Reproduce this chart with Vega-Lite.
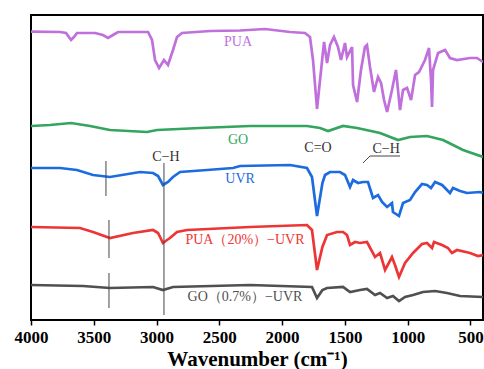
{
  "$schema": "https://vega.github.io/schema/vega-lite/v6.json",
  "width": 452,
  "height": 305,
  "autosize": {"type": "none"},
  "padding": {"left": 31, "top": 15, "right": 1, "bottom": 49},
  "background": "white",
  "config": {
    "view": {"stroke": "black", "strokeWidth": 2},
    "axis": {"grid": false}
  },
  "datasets": {
    "spectra": [
      {"series": "PUA", "wn": 4000, "v": 288.3}, {"series": "PUA", "wn": 3769, "v": 288}, {"series": "PUA", "wn": 3721, "v": 287}, {"series": "PUA", "wn": 3681, "v": 280}, {"series": "PUA", "wn": 3658, "v": 283}, {"series": "PUA", "wn": 3634, "v": 287}, {"series": "PUA", "wn": 3490, "v": 287}, {"series": "PUA", "wn": 3427, "v": 285}, {"series": "PUA", "wn": 3387, "v": 282}, {"series": "PUA", "wn": 3347, "v": 285}, {"series": "PUA", "wn": 3307, "v": 288}, {"series": "PUA", "wn": 3068, "v": 288}, {"series": "PUA", "wn": 3036, "v": 280}, {"series": "PUA", "wn": 3012, "v": 260}, {"series": "PUA", "wn": 2980, "v": 252}, {"series": "PUA", "wn": 2941, "v": 260}, {"series": "PUA", "wn": 2909, "v": 255}, {"series": "PUA", "wn": 2869, "v": 270}, {"series": "PUA", "wn": 2837, "v": 283}, {"series": "PUA", "wn": 2797, "v": 287}, {"series": "PUA", "wn": 2574, "v": 289}, {"series": "PUA", "wn": 2335, "v": 289.5}, {"series": "PUA", "wn": 2136, "v": 291}, {"series": "PUA", "wn": 1937, "v": 288}, {"series": "PUA", "wn": 1818, "v": 287}, {"series": "PUA", "wn": 1778, "v": 283}, {"series": "PUA", "wn": 1754, "v": 260}, {"series": "PUA", "wn": 1722, "v": 211}, {"series": "PUA", "wn": 1698, "v": 240}, {"series": "PUA", "wn": 1666, "v": 278}, {"series": "PUA", "wn": 1642, "v": 257}, {"series": "PUA", "wn": 1618, "v": 275}, {"series": "PUA", "wn": 1587, "v": 283}, {"series": "PUA", "wn": 1555, "v": 273}, {"series": "PUA", "wn": 1531, "v": 260}, {"series": "PUA", "wn": 1499, "v": 277}, {"series": "PUA", "wn": 1483, "v": 263}, {"series": "PUA", "wn": 1443, "v": 273}, {"series": "PUA", "wn": 1435, "v": 235}, {"series": "PUA", "wn": 1403, "v": 218}, {"series": "PUA", "wn": 1372, "v": 250}, {"series": "PUA", "wn": 1340, "v": 273}, {"series": "PUA", "wn": 1324, "v": 275}, {"series": "PUA", "wn": 1300, "v": 253}, {"series": "PUA", "wn": 1268, "v": 228}, {"series": "PUA", "wn": 1236, "v": 243}, {"series": "PUA", "wn": 1212, "v": 237}, {"series": "PUA", "wn": 1188, "v": 220}, {"series": "PUA", "wn": 1164, "v": 208}, {"series": "PUA", "wn": 1125, "v": 230}, {"series": "PUA", "wn": 1093, "v": 250}, {"series": "PUA", "wn": 1061, "v": 210}, {"series": "PUA", "wn": 1037, "v": 230}, {"series": "PUA", "wn": 1005, "v": 232}, {"series": "PUA", "wn": 973, "v": 220}, {"series": "PUA", "wn": 941, "v": 245}, {"series": "PUA", "wn": 910, "v": 248}, {"series": "PUA", "wn": 862, "v": 260}, {"series": "PUA", "wn": 830, "v": 272}, {"series": "PUA", "wn": 814, "v": 240}, {"series": "PUA", "wn": 806, "v": 213}, {"series": "PUA", "wn": 798, "v": 250}, {"series": "PUA", "wn": 758, "v": 267}, {"series": "PUA", "wn": 702, "v": 270}, {"series": "PUA", "wn": 663, "v": 262}, {"series": "PUA", "wn": 607, "v": 260}, {"series": "PUA", "wn": 503, "v": 262}, {"series": "PUA", "wn": 448, "v": 262}, {"series": "PUA", "wn": 400, "v": 258},

      {"series": "GO", "wn": 4000, "v": 194}, {"series": "GO", "wn": 3849, "v": 195}, {"series": "GO", "wn": 3681, "v": 197}, {"series": "GO", "wn": 3530, "v": 194}, {"series": "GO", "wn": 3371, "v": 190}, {"series": "GO", "wn": 3076, "v": 188}, {"series": "GO", "wn": 2996, "v": 190}, {"series": "GO", "wn": 2654, "v": 192}, {"series": "GO", "wn": 2256, "v": 194}, {"series": "GO", "wn": 1993, "v": 194}, {"series": "GO", "wn": 1802, "v": 194}, {"series": "GO", "wn": 1698, "v": 192}, {"series": "GO", "wn": 1634, "v": 189}, {"series": "GO", "wn": 1515, "v": 194}, {"series": "GO", "wn": 1403, "v": 192}, {"series": "GO", "wn": 1220, "v": 187}, {"series": "GO", "wn": 1077, "v": 180}, {"series": "GO", "wn": 981, "v": 183}, {"series": "GO", "wn": 846, "v": 184}, {"series": "GO", "wn": 718, "v": 180}, {"series": "GO", "wn": 559, "v": 170}, {"series": "GO", "wn": 400, "v": 163},

      {"series": "UVR", "wn": 4000, "v": 152}, {"series": "UVR", "wn": 3769, "v": 152}, {"series": "UVR", "wn": 3634, "v": 150}, {"series": "UVR", "wn": 3506, "v": 145}, {"series": "UVR", "wn": 3371, "v": 143}, {"series": "UVR", "wn": 3132, "v": 148}, {"series": "UVR", "wn": 3028, "v": 147}, {"series": "UVR", "wn": 2988, "v": 144}, {"series": "UVR", "wn": 2949, "v": 135}, {"series": "UVR", "wn": 2909, "v": 138}, {"series": "UVR", "wn": 2869, "v": 143}, {"series": "UVR", "wn": 2813, "v": 148}, {"series": "UVR", "wn": 2598, "v": 150}, {"series": "UVR", "wn": 2391, "v": 152}, {"series": "UVR", "wn": 2335, "v": 154}, {"series": "UVR", "wn": 1937, "v": 155}, {"series": "UVR", "wn": 1802, "v": 152}, {"series": "UVR", "wn": 1762, "v": 143}, {"series": "UVR", "wn": 1722, "v": 104}, {"series": "UVR", "wn": 1679, "v": 137}, {"series": "UVR", "wn": 1658, "v": 145}, {"series": "UVR", "wn": 1618, "v": 148}, {"series": "UVR", "wn": 1539, "v": 148}, {"series": "UVR", "wn": 1499, "v": 145}, {"series": "UVR", "wn": 1459, "v": 133}, {"series": "UVR", "wn": 1435, "v": 140}, {"series": "UVR", "wn": 1395, "v": 137}, {"series": "UVR", "wn": 1356, "v": 138}, {"series": "UVR", "wn": 1316, "v": 138}, {"series": "UVR", "wn": 1276, "v": 122}, {"series": "UVR", "wn": 1236, "v": 125}, {"series": "UVR", "wn": 1204, "v": 118}, {"series": "UVR", "wn": 1164, "v": 113}, {"series": "UVR", "wn": 1125, "v": 117}, {"series": "UVR", "wn": 1117, "v": 108}, {"series": "UVR", "wn": 1069, "v": 104}, {"series": "UVR", "wn": 1037, "v": 117}, {"series": "UVR", "wn": 981, "v": 120}, {"series": "UVR", "wn": 941, "v": 128}, {"series": "UVR", "wn": 886, "v": 136}, {"series": "UVR", "wn": 846, "v": 135}, {"series": "UVR", "wn": 814, "v": 132}, {"series": "UVR", "wn": 782, "v": 138}, {"series": "UVR", "wn": 726, "v": 135}, {"series": "UVR", "wn": 663, "v": 127}, {"series": "UVR", "wn": 639, "v": 132}, {"series": "UVR", "wn": 583, "v": 129}, {"series": "UVR", "wn": 527, "v": 127}, {"series": "UVR", "wn": 424, "v": 128}, {"series": "UVR", "wn": 400, "v": 127},

      {"series": "PUA(20%)-UVR", "wn": 4000, "v": 93}, {"series": "PUA(20%)-UVR", "wn": 3610, "v": 92}, {"series": "PUA(20%)-UVR", "wn": 3506, "v": 88}, {"series": "PUA(20%)-UVR", "wn": 3371, "v": 82}, {"series": "PUA(20%)-UVR", "wn": 3188, "v": 87}, {"series": "PUA(20%)-UVR", "wn": 3028, "v": 90}, {"series": "PUA(20%)-UVR", "wn": 2988, "v": 87}, {"series": "PUA(20%)-UVR", "wn": 2949, "v": 77}, {"series": "PUA(20%)-UVR", "wn": 2917, "v": 80}, {"series": "PUA(20%)-UVR", "wn": 2893, "v": 82}, {"series": "PUA(20%)-UVR", "wn": 2837, "v": 88}, {"series": "PUA(20%)-UVR", "wn": 2757, "v": 90}, {"series": "PUA(20%)-UVR", "wn": 2256, "v": 93}, {"series": "PUA(20%)-UVR", "wn": 1802, "v": 95}, {"series": "PUA(20%)-UVR", "wn": 1762, "v": 90}, {"series": "PUA(20%)-UVR", "wn": 1722, "v": 50}, {"series": "PUA(20%)-UVR", "wn": 1679, "v": 73}, {"series": "PUA(20%)-UVR", "wn": 1642, "v": 85}, {"series": "PUA(20%)-UVR", "wn": 1563, "v": 88}, {"series": "PUA(20%)-UVR", "wn": 1515, "v": 88}, {"series": "PUA(20%)-UVR", "wn": 1483, "v": 85}, {"series": "PUA(20%)-UVR", "wn": 1459, "v": 75}, {"series": "PUA(20%)-UVR", "wn": 1419, "v": 78}, {"series": "PUA(20%)-UVR", "wn": 1380, "v": 77}, {"series": "PUA(20%)-UVR", "wn": 1324, "v": 78}, {"series": "PUA(20%)-UVR", "wn": 1260, "v": 63}, {"series": "PUA(20%)-UVR", "wn": 1220, "v": 67}, {"series": "PUA(20%)-UVR", "wn": 1180, "v": 50}, {"series": "PUA(20%)-UVR", "wn": 1125, "v": 63}, {"series": "PUA(20%)-UVR", "wn": 1101, "v": 55}, {"series": "PUA(20%)-UVR", "wn": 1069, "v": 43}, {"series": "PUA(20%)-UVR", "wn": 1021, "v": 57}, {"series": "PUA(20%)-UVR", "wn": 957, "v": 67}, {"series": "PUA(20%)-UVR", "wn": 886, "v": 76}, {"series": "PUA(20%)-UVR", "wn": 846, "v": 77}, {"series": "PUA(20%)-UVR", "wn": 806, "v": 72}, {"series": "PUA(20%)-UVR", "wn": 790, "v": 78}, {"series": "PUA(20%)-UVR", "wn": 726, "v": 75}, {"series": "PUA(20%)-UVR", "wn": 679, "v": 72}, {"series": "PUA(20%)-UVR", "wn": 647, "v": 67}, {"series": "PUA(20%)-UVR", "wn": 607, "v": 70}, {"series": "PUA(20%)-UVR", "wn": 503, "v": 67}, {"series": "PUA(20%)-UVR", "wn": 440, "v": 64}, {"series": "PUA(20%)-UVR", "wn": 400, "v": 65},

      {"series": "GO(0.7%)-UVR", "wn": 4000, "v": 35}, {"series": "GO(0.7%)-UVR", "wn": 3586, "v": 34}, {"series": "GO(0.7%)-UVR", "wn": 3371, "v": 32}, {"series": "GO(0.7%)-UVR", "wn": 3028, "v": 33}, {"series": "GO(0.7%)-UVR", "wn": 2949, "v": 30}, {"series": "GO(0.7%)-UVR", "wn": 2869, "v": 33}, {"series": "GO(0.7%)-UVR", "wn": 2256, "v": 35}, {"series": "GO(0.7%)-UVR", "wn": 1762, "v": 33}, {"series": "GO(0.7%)-UVR", "wn": 1722, "v": 22}, {"series": "GO(0.7%)-UVR", "wn": 1679, "v": 30}, {"series": "GO(0.7%)-UVR", "wn": 1642, "v": 32}, {"series": "GO(0.7%)-UVR", "wn": 1515, "v": 33}, {"series": "GO(0.7%)-UVR", "wn": 1459, "v": 28}, {"series": "GO(0.7%)-UVR", "wn": 1380, "v": 30}, {"series": "GO(0.7%)-UVR", "wn": 1324, "v": 31}, {"series": "GO(0.7%)-UVR", "wn": 1260, "v": 25}, {"series": "GO(0.7%)-UVR", "wn": 1220, "v": 27}, {"series": "GO(0.7%)-UVR", "wn": 1164, "v": 22}, {"series": "GO(0.7%)-UVR", "wn": 1117, "v": 24}, {"series": "GO(0.7%)-UVR", "wn": 1069, "v": 19}, {"series": "GO(0.7%)-UVR", "wn": 1021, "v": 23}, {"series": "GO(0.7%)-UVR", "wn": 957, "v": 25}, {"series": "GO(0.7%)-UVR", "wn": 878, "v": 28}, {"series": "GO(0.7%)-UVR", "wn": 782, "v": 29}, {"series": "GO(0.7%)-UVR", "wn": 687, "v": 27}, {"series": "GO(0.7%)-UVR", "wn": 583, "v": 24}, {"series": "GO(0.7%)-UVR", "wn": 400, "v": 23}
    ],
    "rules": [
      {"wn": 2941, "wn2": 2941, "v": 157, "v2": 5},
      {"wn": 3403, "wn2": 3403, "v": 159, "v2": 124},
      {"wn": 3379, "wn2": 3379, "v": 100, "v2": 62},
      {"wn": 3379, "wn2": 3379, "v": 47, "v2": 12},
      {"wn": 1356, "wn2": 1300, "v": 157, "v2": 164},
      {"wn": 1300, "wn2": 1061, "v": 164, "v2": 164}
    ],
    "labels": [
      {"series": "PUA", "text": "PUA", "wn": 2351, "v": 278},
      {"series": "GO", "text": "GO", "wn": 2351, "v": 180},
      {"series": "UVR", "text": "UVR", "wn": 2335, "v": 141},
      {"series": "PUA(20%)-UVR", "text": "PUA（20%）−UVR", "wn": 2296, "v": 80},
      {"series": "GO(0.7%)-UVR", "text": "GO（0.7%）−UVR", "wn": 2296, "v": 23},
      {"series": "note", "text": "C−H", "wn": 2925, "v": 163},
      {"series": "note", "text": "C=O", "wn": 1714, "v": 172},
      {"series": "note", "text": "C−H", "wn": 1172, "v": 171}
    ]
  },
  "layer": [
    {
      "data": {"name": "spectra"},
      "mark": {"type": "line", "strokeWidth": 2.7, "clip": true},
      "encoding": {
        "x": {
          "field": "wn", "type": "quantitative",
          "scale": {"domain": [400, 4000], "reverse": true, "nice": false, "zero": false},
          "axis": {
            "values": [4000, 3750, 3500, 3250, 3000, 2750, 2500, 2250, 2000, 1750, 1500, 1250, 1000, 750, 500],
            "labelExpr": "datum.value % 500 == 0 ? datum.label : ''",
            "format": "d",
            "domain": false,
            "ticks": true,
            "tickColor": "black",
            "tickWidth": 1.5,
            "tickSize": {"condition": {"test": "datum.value % 500 == 0", "value": 5}, "value": 4},
            "labelFont": "Liberation Serif",
            "labelFontWeight": "bold",
            "labelFontSize": 17,
            "labelColor": "black",
            "labelPadding": 4,
            "labelFlush": false,
            "labelOverlap": false,
            "title": "Wavenumber (cm⁻¹)",
            "titleFont": "Liberation Serif",
            "titleFontWeight": "bold",
            "titleFontSize": 21,
            "titleColor": "black",
            "titleBaseline": "alphabetic",
            "titleY": 45
          }
        },
        "y": {
          "field": "v", "type": "quantitative",
          "scale": {"domain": [0, 305], "nice": false, "zero": false},
          "axis": null
        },
        "color": {
          "field": "series", "type": "nominal", "legend": null,
          "scale": {
            "domain": ["PUA", "GO", "UVR", "PUA(20%)-UVR", "GO(0.7%)-UVR", "note"],
            "range": ["#C070DC", "#34A55E", "#1C6CE0", "#EE3535", "#505050", "#333333"]
          }
        },
        "detail": {"field": "series"}
      }
    },
    {
      "data": {"name": "rules"},
      "mark": {"type": "rule", "color": "#444444", "strokeWidth": 1},
      "encoding": {
        "x": {"field": "wn", "type": "quantitative"},
        "x2": {"field": "wn2"},
        "y": {"field": "v", "type": "quantitative"},
        "y2": {"field": "v2"}
      }
    },
    {
      "data": {"name": "labels"},
      "mark": {"type": "text", "font": "Liberation Serif", "fontSize": 14, "align": "center", "baseline": "middle"},
      "encoding": {
        "x": {"field": "wn", "type": "quantitative"},
        "y": {"field": "v", "type": "quantitative"},
        "text": {"field": "text"},
        "color": {"field": "series", "type": "nominal", "legend": null}
      }
    }
  ]
}
